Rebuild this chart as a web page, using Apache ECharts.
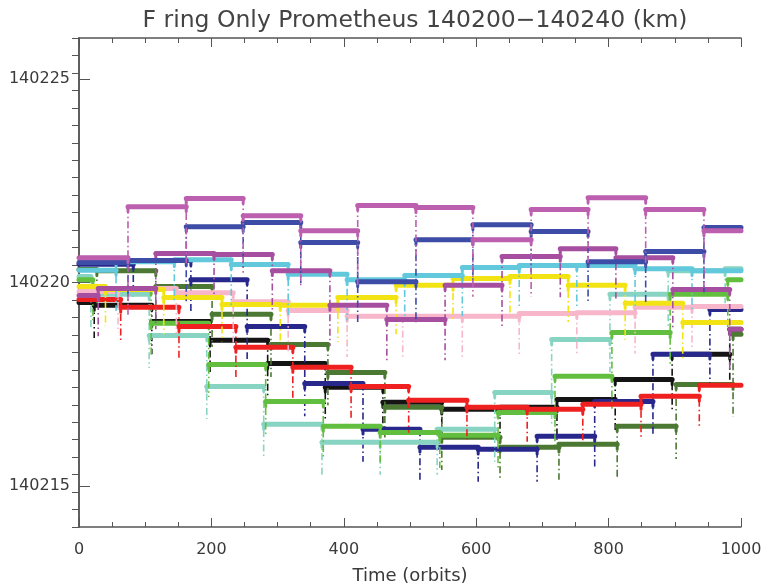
<!DOCTYPE html>
<html>
<head>
<meta charset="utf-8">
<script src="https://cdn.jsdelivr.net/npm/echarts@6/dist/echarts.min.js"></script>
<style>
  html, body { margin: 0; padding: 0; background: #fff; }
  #chart { width: 764px; height: 583px; }
</style>
</head>
<body>
<div id="chart"></div>
<script>
// Semi-major axis (km) of F ring test particles perturbed by Prometheus.
// Each track: the orbits at which an encounter kick happens, the level held between kicks,
// and how far (km) the track drops below the lower level during an encounter.
const orbitRange = [0, 1000];
const kmRange = [140214, 140226];
const kmTicks = [140215, 140220, 140225];

const magentaBreaks = [74, 162, 248, 335, 421, 509, 595, 683, 769, 856, 944];
const magentaLevels = [140220.61, 140221.86, 140222.06, 140221.64, 140221.27, 140221.89, 140221.84, 140221.05, 140221.79, 140222.08, 140221.79, 140221.27];
const magentaDip = 1.4;

const blueBreaks = [74, 162, 248, 335, 421, 509, 595, 683, 769, 856, 944];
const blueLevels = [140220.49, 140220.54, 140221.37, 140221.47, 140220.98, 140220.02, 140221.05, 140221.42, 140221.25, 140220.51, 140220.76, 140221.35];
const blueDip = 1.0;

const navyBreaks = [82, 169, 254, 341, 429, 515, 603, 692, 779, 867, 953];
const navyLevels = [140220.45, 140220.54, 140220.07, 140218.92, 140217.52, 140216.40, 140215.96, 140215.91, 140216.23, 140217.08, 140218.24, 140219.34];
const navyDip = 0.8;

const darkGreenBreaks = [27, 116, 201, 290, 376, 462, 548, 636, 725, 813, 902, 988];
const darkGreenLevels = [140220.32, 140220.29, 140219.90, 140219.22, 140218.48, 140217.79, 140216.94, 140216.20, 140215.96, 140216.03, 140216.47, 140217.50, 140218.73];
const darkGreenDip = 0.8;

const cyanBreaks = [56, 144, 230, 316, 405, 492, 579, 665, 752, 840, 926];
const cyanLevels = [140220.30, 140220.51, 140220.56, 140220.44, 140220.20, 140220.07, 140220.17, 140220.37, 140220.42, 140220.42, 140220.34, 140220.29];
const cyanDip = 1.0;

const tealBreaks = [18, 106, 193, 279, 367, 455, 541, 628, 714, 802, 890, 976];
const tealLevels = [140220.15, 140219.71, 140218.70, 140217.45, 140216.52, 140216.08, 140216.08, 140216.40, 140217.30, 140218.60, 140219.71, 140220.29, 140220.34];
const tealDip = 0.8;

const greenBreaks = [21, 109, 196, 282, 369, 455, 545, 633, 719, 805, 893, 980];
const greenLevels = [140220.07, 140219.83, 140219.00, 140217.99, 140217.08, 140216.47, 140216.32, 140216.25, 140216.81, 140217.70, 140218.77, 140219.71, 140220.07];
const greenDip = 0.8;

const yellowBreaks = [40, 128, 216, 304, 391, 479, 565, 651, 739, 825, 912];
const yellowLevels = [140219.90, 140219.83, 140219.63, 140219.46, 140219.44, 140219.63, 140219.93, 140220.10, 140220.15, 140219.93, 140219.49, 140219.02];
const yellowDip = 0.9;

const pinkBreaks = [59, 147, 233, 316, 405, 489, 579, 665, 752, 840, 926];
const pinkLevels = [140219.78, 140219.85, 140219.75, 140219.53, 140219.31, 140219.17, 140219.17, 140219.17, 140219.24, 140219.26, 140219.39, 140219.41];
const pinkDip = 1.0;

const purpleBreaks = [29, 116, 204, 292, 379, 465, 553, 639, 727, 811, 897, 983];
const purpleLevels = [140219.68, 140219.85, 140220.71, 140220.69, 140220.29, 140219.44, 140219.09, 140219.93, 140220.64, 140220.83, 140220.61, 140219.83, 140218.85];
const purpleDip = 1.0;

const redBreaks = [63, 151, 237, 323, 411, 498, 586, 677, 761, 849, 937];
const redLevels = [140219.58, 140219.39, 140218.92, 140218.41, 140217.92, 140217.45, 140217.11, 140216.94, 140216.89, 140217.01, 140217.21, 140217.48];
const redDip = 0.8;

const blackBreaks = [23, 110, 198, 285, 372, 459, 548, 636, 722, 810, 896, 983];
const blackLevels = [140219.51, 140219.44, 140219.04, 140218.58, 140218.01, 140217.43, 140217.06, 140216.89, 140216.94, 140217.13, 140217.62, 140218.24, 140218.85];
const blackDip = 0.8;

// Drawing order: first listed is underneath.
const tracks = [
  { breaks: blackBreaks,     levels: blackLevels,     dip: blackDip,     color: '#141414' },
  { breaks: darkGreenBreaks, levels: darkGreenLevels, dip: darkGreenDip, color: '#4b7832' },
  { breaks: navyBreaks,      levels: navyLevels,      dip: navyDip,      color: '#27278c' },
  { breaks: tealBreaks,      levels: tealLevels,      dip: tealDip,      color: '#88d4c2' },
  { breaks: greenBreaks,     levels: greenLevels,     dip: greenDip,     color: '#62be3e' },
  { breaks: redBreaks,       levels: redLevels,       dip: redDip,       color: '#ee2020' },
  { breaks: pinkBreaks,      levels: pinkLevels,      dip: pinkDip,      color: '#f7b6ca' },
  { breaks: yellowBreaks,    levels: yellowLevels,    dip: yellowDip,    color: '#f2e414' },
  { breaks: cyanBreaks,      levels: cyanLevels,      dip: cyanDip,      color: '#62c9dc' },
  { breaks: purpleBreaks,    levels: purpleLevels,    dip: purpleDip,    color: '#a64ea0' },
  { breaks: blueBreaks,      levels: blueLevels,      dip: blueDip,      color: '#3d4ca6' },
  { breaks: magentaBreaks,   levels: magentaLevels,   dip: magentaDip,   color: '#bb5fae' }
];

// Each held level bends down slightly into the encounter at both ends (km).
const shoulderDrop = 0.12;

const GAP = ['-', '-'];
const series = [];
tracks.forEach(function (t) {
  const edges = [orbitRange[0]].concat(t.breaks, [orbitRange[1]]);
  const last = edges.length - 1;
  const flat = [];
  const shoulders = [];
  t.levels.forEach(function (lv, i) {
    flat.push([edges[i], lv], [edges[i + 1], lv], GAP);
    if (i > 0) shoulders.push([edges[i], lv], [edges[i], lv - shoulderDrop], GAP);
    if (i + 1 < last) shoulders.push([edges[i + 1], lv], [edges[i + 1], lv - shoulderDrop], GAP);
  });
  const legs = [];
  t.breaks.forEach(function (b, i) {
    const a = t.levels[i], c = t.levels[i + 1];
    legs.push([b, Math.max(a, c)], [b, Math.min(a, c) - t.dip], GAP);
  });
  series.push({
    type: 'line', data: legs, symbol: 'none', silent: true, animation: false,
    lineStyle: { color: t.color, width: 1.6, type: [7, 3, 1.5, 3] }
  });
  series.push({
    type: 'line', data: shoulders, symbol: 'none', silent: true, animation: false,
    lineStyle: { color: t.color, width: 3, cap: 'round' }
  });
  series.push({
    type: 'line', data: flat, symbol: 'none', silent: true, animation: false,
    lineStyle: { color: t.color, width: 5, cap: 'round' }
  });
});

const axisColor = '#555';
const fontFamily = 'DejaVu Sans, Liberation Sans, sans-serif';
const tickFont = { color: '#3a3a3a', fontSize: 16, fontFamily: fontFamily };
const nameFont = { color: '#3a3a3a', fontSize: 18, fontFamily: fontFamily };
const plain = function (v) { return String(v); };

const chart = echarts.init(document.getElementById('chart'), null, { renderer: 'canvas' });
chart.setOption({
  backgroundColor: '#fff',
  animation: false,
  title: {
    text: 'F ring Only Prometheus 140200\u2212140240 (km)',
    left: 410, top: 4, textAlign: 'center',
    textStyle: { color: '#444', fontSize: 23.5, fontWeight: 'normal', fontFamily: fontFamily }
  },
  grid: { left: 79, right: 23, top: 38, bottom: 56, containLabel: false, outerBoundsMode: 'none' },
  xAxis: [{
    type: 'value', position: 'bottom', min: orbitRange[0], max: orbitRange[1], interval: 200,
    axisLine: { lineStyle: { color: axisColor, width: 1.5 } },
    axisTick: { inside: true, length: 9, lineStyle: { color: axisColor } },
    minorTick: { show: true, splitNumber: 4, length: 5, lineStyle: { color: axisColor } },
    splitLine: { show: false },
    axisLabel: Object.assign({ margin: 15, formatter: plain }, tickFont),
    name: 'Time (orbits)', nameLocation: 'middle', nameGap: 40,
    nameTextStyle: nameFont
  }, {
    type: 'value', position: 'top', min: orbitRange[0], max: orbitRange[1], interval: 200,
    axisLine: { lineStyle: { color: axisColor, width: 1.5 } },
    axisTick: { inside: true, length: 9, lineStyle: { color: axisColor } },
    minorTick: { show: true, splitNumber: 4, length: 5, lineStyle: { color: axisColor } },
    splitLine: { show: false },
    axisLabel: { show: false }
  }],
  yAxis: [{
    type: 'value', position: 'left', min: kmRange[0], max: kmRange[1],
    axisLine: { show: true, lineStyle: { color: axisColor, width: 1.5 } },
    axisTick: { show: true, inside: true, length: 11, customValues: kmTicks, lineStyle: { color: axisColor } },
    axisLabel: Object.assign({ margin: 9, customValues: kmTicks, formatter: plain }, tickFont),
    splitLine: { show: false }
  }, {
    type: 'value', position: 'right', min: 0, max: 28, interval: 1,
    axisLine: { show: true, lineStyle: { color: axisColor, width: 1.5 } },
    axisTick: { show: true, inside: true, length: 7, lineStyle: { color: axisColor } },
    axisLabel: { show: false },
    splitLine: { show: false }
  }],
  series: series
});
</script>
</body>
</html>
